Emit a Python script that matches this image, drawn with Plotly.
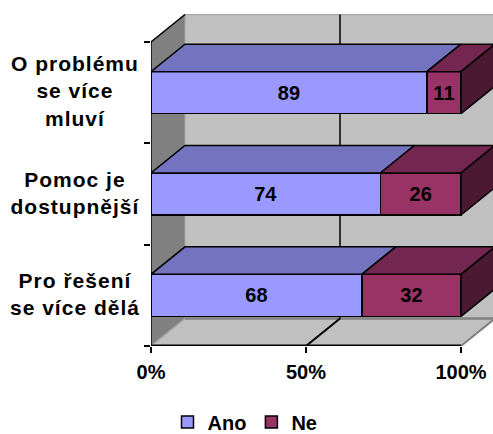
import plotly.graph_objects as go

categories = ["O problému<br>se více<br>mluví", "Pomoc je<br>dostupnější", "Pro řešení<br>se více dělá"]
ano_values = [89, 74, 68]
ne_values = [11, 26, 32]
x_ticks = [0, 50, 100]
x_tick_labels = ["0%", "50%", "100%"]

W, H = 493, 434
L, R_PX, T, B = 151, 461, 14, 346
PX_PER_PCT = (R_PX - L) / 100
PX_PER_CAT = (B - 42) / 3
DX = 34 / PX_PER_PCT
DY = 27.5 / PX_PER_CAT
BAR_H = 0.415
FONT = "Liberation Sans"
TXT = dict(family=FONT, size=20, color="black", weight="bold")
LABEL_TXT = dict(family=FONT, size=21, color="black", weight="bold")
COL_A, COL_A_TOP = "#9999FF", "#7373BF"
COL_N, COL_N_TOP, COL_N_SIDE = "#993366", "#732650", "#4C1933"
n = len(categories)
ypos = [n - i - 0.5 for i in range(n)]


def path(pts):
    return "M" + "L".join(f"{x},{y}" for x, y in pts) + "Z"


def poly_shape(pts, fill):
    return dict(type="path", path=path(pts), xref="x", yref="y", layer="below",
                fillcolor=fill, line=dict(color="rgba(0,0,0,0)", width=0))


def seg(x0, y0, x1, y1, color="black", width=1.5):
    return dict(type="line", x0=x0, y0=y0, x1=x1, y1=y1, xref="x", yref="y",
                layer="below", line=dict(color=color, width=width))


shapes = [
    poly_shape([(DX, DY), (100 + DX, DY), (100 + DX, n + DY), (DX, n + DY)], "#C0C0C0"),
    poly_shape([(0, 0), (DX, DY), (DX, n + DY), (0, n)], "#808080"),
    poly_shape([(0, 0), (100, 0), (100 + DX, DY), (DX, DY)], "#C0C0C0"),
    seg(DX, n + DY, 100 + DX, n + DY, "#A6A6A6", 1.5),
    seg(DX, DY, DX, n + DY, "#A6A6A6", 1),
    seg(DX, DY, 100 + DX, DY, "#808080", 2.5),
    seg(50 + DX, DY, 50 + DX, n + DY),
]

fig = go.Figure()
for name, vals, col in [("Ano", ano_values, COL_A), ("Ne", ne_values, COL_N)]:
    fig.add_bar(name=name, orientation="h", x=vals, y=ypos, width=BAR_H,
                marker=dict(color=col, line=dict(color="black", width=1.5)),
                text=vals, textposition="inside", insidetextanchor="middle",
                textangle=0, textfont=TXT, constraintext="none", hoverinfo="skip")


def edge(xs, ys, color="black", width=1.5):
    fig.add_scatter(x=xs, y=ys, mode="lines", line=dict(color=color, width=width),
                    showlegend=False, hoverinfo="skip", cliponaxis=False)


edge([0, DX], [0, DY], "#A6A6A6")
edge([100, 100 + DX], [0, DY], "#808080", 2)
edge([50, 50 + DX], [0, DY], "#000000", 2)
edge([0, 100], [0, 0], "#000000", 3)
edge([0, 0], [0, n])
edge([0, DX], [n, n + DY])


def poly(pts, fill):
    xs, ys = zip(*(pts + pts[:1]))
    fig.add_scatter(x=xs, y=ys, mode="lines", fill="toself", fillcolor=fill,
                    line=dict(color="black", width=1.5), showlegend=False, hoverinfo="skip")


for y, a, v in zip(ypos, ano_values, ne_values):
    top = y + BAR_H / 2
    bot = y - BAR_H / 2
    poly([(0, top), (a, top), (a + DX, top + DY), (DX, top + DY)], COL_A_TOP)
    poly([(a, top), (a + v, top), (a + v + DX, top + DY), (a + DX, top + DY)], COL_N_TOP)
    poly([(a + v, bot), (a + v + DX, bot + DY), (a + v + DX, top + DY), (a + v, top)], COL_N_SIDE)

annotations = [
    dict(x=(75 - L) / (W - L), y=y, xref="paper", yref="y", text=c, showarrow=False,
         align="center", font=LABEL_TXT, xanchor="center", yanchor="middle", yshift=1.5)
    for c, y in zip(categories, ypos)
]

fig.update_layout(
    width=W, height=H, barmode="stack", paper_bgcolor="white", plot_bgcolor="rgba(0,0,0,0)",
    margin=dict(l=L, r=0, t=T, b=H - B, pad=0, autoexpand=False), shapes=shapes, annotations=annotations,
    font=dict(family=FONT, color="black"),
    legend=dict(orientation="h", x=(245 - L) / (W - L), xref="paper", xanchor="center",
                y=-(422 - B) / (B - T), yref="paper", yanchor="middle", font=TXT, itemwidth=30,
                traceorder="normal", itemclick=False, itemdoubleclick=False),
    xaxis=dict(range=[0, (W - L) / PX_PER_PCT], tickmode="array", tickvals=x_ticks,
               ticktext=x_tick_labels, ticks="outside", ticklen=6, tickwidth=1.5, tickcolor="black",
               showgrid=False, zeroline=False, showline=False, tickfont=TXT, ticklabelstandoff=2),
    yaxis=dict(range=[0, (B - T) / PX_PER_CAT], tickmode="array", tickvals=[],
               showticklabels=False, showgrid=False, zeroline=False, showline=False,
               minor=dict(ticks="outside", ticklen=6, tickwidth=1.5, tickcolor="black",
                          tickmode="array", tickvals=list(range(n + 1)))),
)
fig.write_html("out.html", config=dict(displayModeBar=False),
               post_script="document.body.style.margin='0';document.body.style.overflow='hidden';"
                           "document.querySelectorAll('.annotation-text').forEach(t=>t.style.letterSpacing='1px');")
